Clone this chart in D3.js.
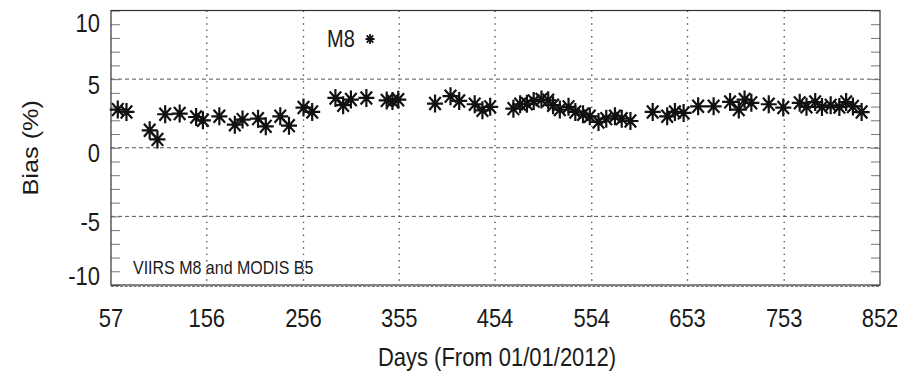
<!DOCTYPE html>
<html>
<head>
<meta charset="utf-8">
<script src="https://cdn.jsdelivr.net/npm/d3@7"></script>
<style>
  body { margin: 0; background: #fff; }
  text { font-family: "Liberation Sans", Arial, Helvetica, sans-serif; fill: #1a1a1a; }
</style>
</head>
<body>
<script>
// days since 01/01/2012
var days = [64, 73, 97, 105, 113, 128, 145, 152, 169, 185, 193, 209, 217, 232, 241,
            256, 265, 289, 297, 305, 321, 342, 348, 354, 392, 408, 417, 433, 441, 449,
            473, 480, 487, 494, 502, 509, 514, 521, 530, 537, 545, 552, 561, 569, 578,
            585, 594, 617, 632, 640, 649, 664, 680, 697, 706, 712, 719, 737, 752, 769,
            776, 785, 792, 801, 810, 817, 824, 833];
// bias (%)
var bias = [2.78, 2.61, 1.27, 0.61, 2.44, 2.49, 2.24, 2.00, 2.29, 1.68, 2.05, 2.12, 1.56, 2.29, 1.61,
            2.93, 2.61, 3.63, 3.10, 3.51, 3.63, 3.45, 3.41, 3.50, 3.22, 3.76, 3.41, 3.17, 2.73, 2.98,
            2.85, 3.17, 3.20, 3.41, 3.51, 3.46, 3.10, 2.78, 2.98, 2.61, 2.44, 2.29, 1.88, 2.12, 2.29,
            2.12, 1.95, 2.61, 2.29, 2.61, 2.54, 3.02, 3.02, 3.34, 2.78, 3.51, 3.27, 3.17, 2.93, 3.27,
            2.98, 3.33, 2.96, 3.09, 2.96, 3.33, 3.01, 2.60];

var xTicks = [57, 156, 256, 355, 454, 554, 653, 753, 852];
var yTicks = [-10, -5, 0, 5, 10];
var yMinor = d3.range(-10, 11, 1);
var gridY = [-5, 0, 5];

var seriesName = "M8";
var note = "VIIRS M8 and MODIS B5";

var plotL = 111, plotR = 880, plotT = 10.5, plotB = 285;
var stretch = 1.15;

var svg = d3.select("body").append("svg")
    .attr("width", 904)
    .attr("height", 375);

var x = d3.scaleLinear().domain([57, 852]).range([plotL, plotR]);
var y = d3.scaleLinear().domain([-10, 10]).range([plotB, plotT]);

// grid: dashed horizontals, dotted verticals
svg.selectAll(".hgrid")
    .data(gridY)
    .enter().append("line")
    .attr("x1", plotL).attr("x2", plotR)
    .attr("y1", function (d) { return y(d); })
    .attr("y2", function (d) { return y(d); })
    .attr("stroke", "#555")
    .attr("stroke-width", 1)
    .attr("stroke-dasharray", "4,3");

svg.selectAll(".vgrid")
    .data(xTicks.slice(1, -1))
    .enter().append("line")
    .attr("x1", function (d) { return x(d); })
    .attr("x2", function (d) { return x(d); })
    .attr("y1", plotT).attr("y2", plotB)
    .attr("stroke", "#555")
    .attr("stroke-width", 1.4)
    .attr("stroke-dasharray", "1.4,5");

// minor ticks left and right, pointing inward
svg.append("g")
    .attr("transform", "translate(" + plotL + ",0)")
    .call(d3.axisLeft(y).tickValues(yMinor).tickSize(-9).tickFormat(""))
    .call(function (g) {
      g.select(".domain").remove();
      g.selectAll("line").attr("stroke", "#777");
    });

svg.append("g")
    .attr("transform", "translate(" + plotR + ",0)")
    .call(d3.axisRight(y).tickValues(yMinor).tickSize(-9).tickFormat(""))
    .call(function (g) {
      g.select(".domain").remove();
      g.selectAll("line").attr("stroke", "#777");
    });

// frame
svg.append("rect")
    .attr("x", plotL).attr("y", plotT)
    .attr("width", plotR - plotL).attr("height", plotB - plotT)
    .attr("fill", "none")
    .attr("stroke", "#333")
    .attr("stroke-width", 1.2);

svg.append("line")
    .attr("x1", plotL).attr("x2", plotR)
    .attr("y1", plotB + 1.5).attr("y2", plotB + 1.5)
    .attr("stroke", "#777")
    .attr("stroke-width", 1)
    .attr("stroke-dasharray", "3,1.5");

// y tick labels (nudged down, ends kept inside the frame)
svg.selectAll(".ylab")
    .data(yTicks)
    .enter().append("text")
    .attr("transform", function (d) {
      var cy = Math.min(Math.max(y(d) + 5.5, plotT + 12.5), plotB - 9);
      return "translate(100," + cy + ") scale(1," + stretch + ")";
    })
    .attr("dy", "0.36em")
    .attr("text-anchor", "end")
    .attr("font-size", "22px")
    .text(function (d) { return d; });

// x tick labels
svg.selectAll(".xlab")
    .data(xTicks)
    .enter().append("text")
    .attr("transform", function (d) {
      return "translate(" + x(d) + ",327) scale(1," + stretch + ")";
    })
    .attr("text-anchor", "middle")
    .attr("font-size", "22px")
    .text(function (d) { return d; });

// axis titles
svg.append("text")
    .attr("transform", "translate(497,366) scale(1," + stretch + ")")
    .attr("text-anchor", "middle")
    .attr("font-size", "22px")
    .text("Days (From 01/01/2012)");

svg.append("text")
    .attr("transform", "translate(38," + ((plotT + plotB) / 2) + ") rotate(-90) scale(" + stretch + ",1)")
    .attr("text-anchor", "middle")
    .attr("font-size", "22px")
    .text("Bias (%)");

// asterisk marker
function star(rx, ry) {
  var dx = rx * 0.72, dy = ry * 0.72;
  return "M" + (-rx) + ",0L" + rx + ",0" +
         "M0," + (-ry) + "L0," + ry +
         "M" + (-dx) + "," + (-dy) + "L" + dx + "," + dy +
         "M" + (-dx) + "," + dy + "L" + dx + "," + (-dy);
}

svg.selectAll(".pt")
    .data(days)
    .enter().append("path")
    .attr("transform", function (d, i) { return "translate(" + x(d) + "," + y(bias[i]) + ")"; })
    .attr("d", star(8, 9))
    .attr("fill", "none")
    .attr("stroke", "#111")
    .attr("stroke-width", 2.2);

// legend
svg.append("text")
    .attr("transform", "translate(327,47) scale(1," + stretch + ")")
    .attr("font-size", "20px")
    .text(seriesName);

svg.append("path")
    .attr("transform", "translate(370,39)")
    .attr("d", star(4.5, 5))
    .attr("fill", "none")
    .attr("stroke", "#111")
    .attr("stroke-width", 1.8);

svg.append("text")
    .attr("transform", "translate(133,274) scale(1," + stretch + ")")
    .attr("font-size", "16px")
    .text(note);
</script>
</body>
</html>
